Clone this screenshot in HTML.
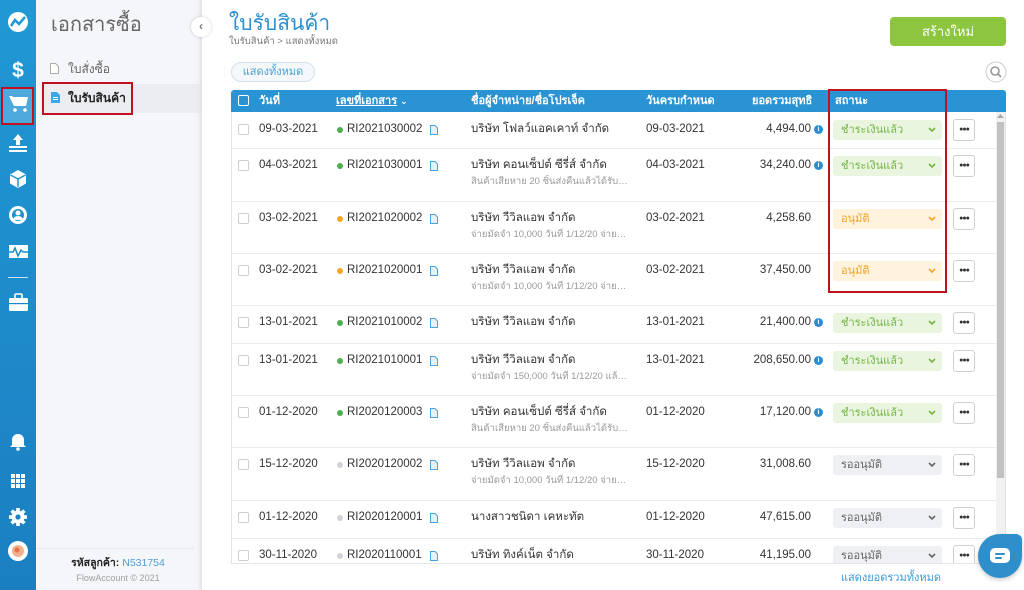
<!DOCTYPE html>
<html><head><meta charset="utf-8">
<style>
*{box-sizing:border-box}
body{margin:0;width:1024px;height:590px;position:relative;overflow:hidden;font-family:"Liberation Sans","DejaVu Sans",sans-serif;background:#fff;color:#333}
.a{position:absolute}
.t{white-space:nowrap;line-height:17px;height:17px}
.cb{position:absolute;width:11px;height:11px;border:1px solid #cfcfcf;border-radius:2px;background:#fff}
.dot{position:absolute;width:6px;height:6px;border-radius:50%}
.sub{position:absolute;font-size:9.5px;color:#9a9a9a;width:160px;overflow:hidden;text-overflow:ellipsis;white-space:nowrap;line-height:13px}
.amt{position:absolute;width:111px;text-align:right;font-size:11.5px;line-height:17px}
.inf{position:absolute;width:9px;height:9px;border-radius:50%;background:#2a8fd0;color:#fff;font-size:7px;line-height:9px;text-align:center;font-weight:bold}
.st{position:absolute;left:833px;width:109px;height:20px;border-radius:3px;font-size:11px;line-height:20px;padding-left:8px}
.st svg{position:absolute;right:6px;top:7px}
.pd{background:#e9f5df;color:#74b543}
.ap{background:#fff3dd;color:#f3a22b}
.wt{background:#eef0f3;color:#666}
.dots{position:absolute;left:953px;width:22px;height:22px;border:1px solid #cfcfcf;border-radius:3px;background:#fff;font-size:7px;line-height:20px;text-align:center;color:#333;letter-spacing:-1px}
.sep{position:absolute;left:232px;width:764px;height:1px;background:#ebebeb}
.hd{position:absolute;top:92px;color:#fff;font-size:11px;font-weight:bold;line-height:18px;white-space:nowrap}
</style></head><body>

<!-- left icon bar -->
<svg class="a" style="left:0;top:0" width="36" height="590">
<defs><linearGradient id="g" x1="0" y1="0" x2="0" y2="1"><stop offset="0" stop-color="#2198d5"/><stop offset="1" stop-color="#1a7fc1"/></linearGradient></defs>
<rect width="36" height="590" fill="url(#g)"/>
<circle cx="18" cy="22" r="10" fill="#fff"/>
<polyline points="11,26 15,20 19,24 25,17" stroke="#2198d5" stroke-width="2.5" fill="none"/>
<text x="18" y="77" font-size="21" font-weight="bold" fill="#fff" text-anchor="middle" font-family="Liberation Sans">$</text>
<rect x="3" y="89" width="29" height="34" fill="#4eaadd"/>
<rect x="2" y="88" width="31" height="36" fill="none" stroke="#c0111f" stroke-width="2"/>
<path d="M9 96h3l1 1h15l-2 9H14z" fill="#fff"/>
<circle cx="15" cy="110" r="1.8" fill="#fff"/><circle cx="25" cy="110" r="1.8" fill="#fff"/>
<polygon points="18,134 23,140 20,140 20,145 16,145 16,140 13,140" fill="#fff"/>
<rect x="9" y="146" width="18" height="2" fill="#fff"/><rect x="9" y="150" width="18" height="2" fill="#fff"/>
<polygon points="18,170 26,174.5 26,183.5 18,188 10,183.5 10,174.5" fill="#fff"/>
<polyline points="10.5,175 18,179 25.5,175" stroke="#2198d5" stroke-width="1.5" fill="none"/><line x1="18" y1="179" x2="18" y2="187" stroke="#2198d5" stroke-width="1.5"/>
<circle cx="18" cy="215" r="9" fill="#fff"/><circle cx="18" cy="215" r="6" fill="#1e90cf"/>
<circle cx="18" cy="213" r="2.5" fill="#fff"/><path d="M13 220a5 4 0 0 1 10 0z" fill="#fff"/>
<rect x="9" y="245" width="19" height="13" fill="#fff"/>
<polyline points="9,252 13,252 15,248 18,256 21,250 23,252 28,252" stroke="#1e8acb" stroke-width="1.5" fill="none"/>
<rect x="8" y="277" width="20" height="1" fill="#fff" opacity=".75"/>
<rect x="15" y="294" width="7" height="5" rx="1" fill="none" stroke="#fff" stroke-width="1.6"/>
<rect x="9" y="298" width="19" height="13" rx="1.5" fill="#fff"/>
<rect x="9" y="303" width="19" height="1.2" fill="#1d84c5"/>
<path d="M18 434c-4 0-6 3-6 6v5l-2 2h16l-2-2v-5c0-3-2-6-6-6z" fill="#fff"/><circle cx="18" cy="449" r="1.8" fill="#fff"/>
<g fill="#fff">
<rect x="11" y="474" width="4" height="4"/><rect x="16" y="474" width="4" height="4"/><rect x="21" y="474" width="4" height="4"/>
<rect x="11" y="479" width="4" height="4"/><rect x="16" y="479" width="4" height="4"/><rect x="21" y="479" width="4" height="4"/>
<rect x="11" y="484" width="4" height="4"/><rect x="16" y="484" width="4" height="4"/><rect x="21" y="484" width="4" height="4"/>
</g>
<g transform="translate(18,517)" fill="#fff">
<circle r="6.5"/>
<rect x="-1.8" y="-9" width="3.6" height="18"/><rect x="-1.8" y="-9" width="3.6" height="18" transform="rotate(45)"/>
<rect x="-1.8" y="-9" width="3.6" height="18" transform="rotate(90)"/><rect x="-1.8" y="-9" width="3.6" height="18" transform="rotate(135)"/>
<circle r="2.6" fill="#1b82c3"/>
</g>
<circle cx="18" cy="551" r="10" fill="#fff"/><circle cx="18" cy="551" r="6" fill="#f3b08a"/><circle cx="17" cy="550" r="2.5" fill="#e0734a"/>
</svg>

<!-- second sidebar -->
<div class="a" style="left:36px;top:0;width:166px;height:590px;background:#f5f6f9;box-shadow:inset -3px 0 4px -2px rgba(0,0,0,.06)"></div>
<div class="a t" style="left:51px;top:12px;font-size:20px;line-height:26px;height:26px;color:#666">เอกสารซื้อ</div>
<svg class="a" style="left:50px;top:63px" width="9" height="11"><path d="M0.5 0.5h5l3 3v7h-8z" fill="#fff" stroke="#aaa"/></svg>
<div class="a t" style="left:68px;top:61px;font-size:12px;color:#666">ใบสั่งซื้อ</div>
<div class="a" style="left:41px;top:84px;width:161px;height:29px;background:#ebedf1"></div>
<svg class="a" style="left:51px;top:92px" width="9" height="11"><path d="M0 0h6l3 3v8H0z" fill="#3ea6e6"/><rect x="2" y="5" width="5" height="1" fill="#fff"/><rect x="2" y="7" width="5" height="1" fill="#fff"/></svg>
<div class="a t" style="left:68px;top:90px;font-size:12px;font-weight:bold;color:#222">ใบรับสินค้า</div>
<div class="a" style="left:42px;top:82px;width:91px;height:33px;border:2px solid #c0111f"></div>
<div class="a" style="left:36px;top:548px;width:158px;height:1px;background:#e8e9ec"></div>
<div class="a t" style="left:36px;top:555px;width:164px;text-align:center;font-size:10.5px"><b style="color:#222">รหัสลูกค้า:</b> <span style="color:#4a9fd5">N531754</span></div>
<div class="a t" style="left:36px;top:570px;width:164px;text-align:center;font-size:9px;color:#a0a0a0">FlowAccount © 2021</div>

<!-- main -->
<div class="a" style="left:202px;top:0;width:822px;height:590px;background:#fff;box-shadow:-2px 0 5px rgba(0,0,0,.06)"></div>
<div class="a" style="left:191px;top:17px;width:20px;height:20px;border-radius:50%;background:#fff;box-shadow:0 0 3px rgba(0,0,0,.2);font-size:12px;line-height:19px;text-align:center;color:#777;font-weight:bold">‹</div>
<div class="a t" style="left:229px;top:10px;font-size:21px;line-height:28px;height:28px;color:#2b8fd0">ใบรับสินค้า</div>
<div class="a t" style="left:229px;top:33px;font-size:9.5px;color:#777">ใบรับสินค้า &gt; แสดงทั้งหมด</div>
<div class="a" style="left:231px;top:62px;width:84px;height:20px;border:1px solid #cfe2ef;background:#f4f8fb;border-radius:10px;font-size:11px;line-height:18px;text-align:center;color:#4a9fd5">แสดงทั้งหมด</div>
<div class="a" style="left:890px;top:17px;width:116px;height:29px;background:#8cc63f;border-radius:4px;color:#fff;font-size:13px;line-height:29px;text-align:center">สร้างใหม่</div>
<svg class="a" style="left:985px;top:61px" width="22" height="22"><circle cx="11" cy="11" r="10" fill="#fff" stroke="#ccc"/><circle cx="10" cy="10" r="4" fill="none" stroke="#999" stroke-width="1.6"/><line x1="13" y1="13" x2="16" y2="16" stroke="#999" stroke-width="1.8"/></svg>

<!-- table header -->
<div class="a" style="left:231px;top:90px;width:775px;height:22px;background:#2a93d4;border-radius:3px 3px 0 0"></div>
<div class="a" style="left:238px;top:95px;width:11px;height:11px;border:1px solid #fff;border-radius:2px"></div>
<div class="hd" style="left:259px">วันที่</div>
<div class="hd" style="left:336px"><u>เลขที่เอกสาร</u> <span style="font-size:9px">⌄</span></div>
<div class="hd" style="left:471px">ชื่อผู้จำหน่าย/ชื่อโปรเจ็ค</div>
<div class="hd" style="left:646px">วันครบกำหนด</div>
<div class="hd" style="left:752px">ยอดรวมสุทธิ</div>
<div class="hd" style="left:835px">สถานะ</div>

<!-- table body frame -->
<div class="a" style="left:231px;top:112px;width:1px;height:451px;background:#e2e2e2"></div>
<div class="a" style="left:1005px;top:112px;width:1px;height:451px;background:#e2e2e2"></div>
<div class="a" style="left:231px;top:563px;width:775px;height:1px;background:#e6e6e6"></div>
<div class="a" style="left:996px;top:112px;width:9px;height:451px;background:#f1f1f1"></div>
<div class="a" style="left:997px;top:122px;width:7px;height:356px;background:#c1c1c1"></div>
<svg class="a" style="left:997px;top:114px" width="7" height="5"><polygon points="3.5,0 7,4 0,4" fill="#a8a8a8"/></svg>

<div class="a" style="left:0;top:112px;width:996px;height:451px;overflow:hidden">
<!-- row1 T=0 -->
<div class="cb" style="left:238px;top:12px"></div>
<div class="a t" style="left:259px;top:9px;font-size:11.5px">09-03-2021</div>
<div class="dot" style="left:337px;top:15px;background:#4caf50"></div>
<div class="a t" style="left:347px;top:9px;font-size:11.5px">RI2021030002</div>
<svg class="a" style="left:430px;top:13px" width="8" height="10"><path d="M.5.5h4.5l2.5 2.5v6.5h-7z" fill="#e6f2fb" stroke="#4aa3dd"/></svg>
<div class="a t" style="left:471px;top:9px;font-size:11.5px">บริษัท โฟลว์แอคเคาท์ จำกัด</div>
<div class="a t" style="left:646px;top:9px;font-size:11.5px">09-03-2021</div>
<div class="amt" style="left:700px;top:9px">4,494.00</div>
<div class="inf" style="left:814px;top:13px">i</div>
<div class="st pd" style="top:8px">ชำระเงินแล้ว<svg width="8" height="6"><polyline points="1,1 4,4 7,1" stroke="#74b543" stroke-width="1.6" fill="none"/></svg></div>
<div class="dots" style="top:7px">●●●</div>

<!-- row2 T=36 -->
<div class="sep" style="top:36px"></div>
<div class="cb" style="left:238px;top:48px"></div>
<div class="a t" style="left:259px;top:45px;font-size:11.5px">04-03-2021</div>
<div class="dot" style="left:337px;top:51px;background:#4caf50"></div>
<div class="a t" style="left:347px;top:45px;font-size:11.5px">RI2021030001</div>
<svg class="a" style="left:430px;top:49px" width="8" height="10"><path d="M.5.5h4.5l2.5 2.5v6.5h-7z" fill="#e6f2fb" stroke="#4aa3dd"/></svg>
<div class="a t" style="left:471px;top:45px;font-size:11.5px">บริษัท คอนเซ็ปต์ ซีรี่ส์ จำกัด</div>
<div class="sub" style="left:471px;top:63px">สินค้าเสียหาย 20 ชิ้นส่งคืนแล้วได้รับใบลดหนี้เรียบร้อย</div>
<div class="a t" style="left:646px;top:45px;font-size:11.5px">04-03-2021</div>
<div class="amt" style="left:700px;top:45px">34,240.00</div>
<div class="inf" style="left:814px;top:49px">i</div>
<div class="st pd" style="top:44px">ชำระเงินแล้ว<svg width="8" height="6"><polyline points="1,1 4,4 7,1" stroke="#74b543" stroke-width="1.6" fill="none"/></svg></div>
<div class="dots" style="top:43px">●●●</div>

<!-- row3 T=89 -->
<div class="sep" style="top:89px"></div>
<div class="cb" style="left:238px;top:101px"></div>
<div class="a t" style="left:259px;top:98px;font-size:11.5px">03-02-2021</div>
<div class="dot" style="left:337px;top:104px;background:#f5a623"></div>
<div class="a t" style="left:347px;top:98px;font-size:11.5px">RI2021020002</div>
<svg class="a" style="left:430px;top:102px" width="8" height="10"><path d="M.5.5h4.5l2.5 2.5v6.5h-7z" fill="#e6f2fb" stroke="#4aa3dd"/></svg>
<div class="a t" style="left:471px;top:98px;font-size:11.5px">บริษัท วีวิลแอพ จำกัด</div>
<div class="sub" style="left:471px;top:116px">จ่ายมัดจำ 10,000 วันที่ 1/12/20 จ่ายส่วนที่เหลือ</div>
<div class="a t" style="left:646px;top:98px;font-size:11.5px">03-02-2021</div>
<div class="amt" style="left:700px;top:98px">4,258.60</div>
<div class="st ap" style="top:97px">อนุมัติ<svg width="8" height="6"><polyline points="1,1 4,4 7,1" stroke="#f3a22b" stroke-width="1.6" fill="none"/></svg></div>
<div class="dots" style="top:96px">●●●</div>

<!-- row4 T=141 -->
<div class="sep" style="top:141px"></div>
<div class="cb" style="left:238px;top:153px"></div>
<div class="a t" style="left:259px;top:150px;font-size:11.5px">03-02-2021</div>
<div class="dot" style="left:337px;top:156px;background:#f5a623"></div>
<div class="a t" style="left:347px;top:150px;font-size:11.5px">RI2021020001</div>
<svg class="a" style="left:430px;top:154px" width="8" height="10"><path d="M.5.5h4.5l2.5 2.5v6.5h-7z" fill="#e6f2fb" stroke="#4aa3dd"/></svg>
<div class="a t" style="left:471px;top:150px;font-size:11.5px">บริษัท วีวิลแอพ จำกัด</div>
<div class="sub" style="left:471px;top:168px">จ่ายมัดจำ 10,000 วันที่ 1/12/20 จ่ายส่วนที่เหลือ</div>
<div class="a t" style="left:646px;top:150px;font-size:11.5px">03-02-2021</div>
<div class="amt" style="left:700px;top:150px">37,450.00</div>
<div class="st ap" style="top:149px">อนุมัติ<svg width="8" height="6"><polyline points="1,1 4,4 7,1" stroke="#f3a22b" stroke-width="1.6" fill="none"/></svg></div>
<div class="dots" style="top:148px">●●●</div>

<!-- row5 T=193 -->
<div class="sep" style="top:193px"></div>
<div class="cb" style="left:238px;top:205px"></div>
<div class="a t" style="left:259px;top:202px;font-size:11.5px">13-01-2021</div>
<div class="dot" style="left:337px;top:208px;background:#4caf50"></div>
<div class="a t" style="left:347px;top:202px;font-size:11.5px">RI2021010002</div>
<svg class="a" style="left:430px;top:206px" width="8" height="10"><path d="M.5.5h4.5l2.5 2.5v6.5h-7z" fill="#e6f2fb" stroke="#4aa3dd"/></svg>
<div class="a t" style="left:471px;top:202px;font-size:11.5px">บริษัท วีวิลแอพ จำกัด</div>
<div class="a t" style="left:646px;top:202px;font-size:11.5px">13-01-2021</div>
<div class="amt" style="left:700px;top:202px">21,400.00</div>
<div class="inf" style="left:814px;top:206px">i</div>
<div class="st pd" style="top:201px">ชำระเงินแล้ว<svg width="8" height="6"><polyline points="1,1 4,4 7,1" stroke="#74b543" stroke-width="1.6" fill="none"/></svg></div>
<div class="dots" style="top:200px">●●●</div>

<!-- row6 T=231 -->
<div class="sep" style="top:231px"></div>
<div class="cb" style="left:238px;top:243px"></div>
<div class="a t" style="left:259px;top:240px;font-size:11.5px">13-01-2021</div>
<div class="dot" style="left:337px;top:246px;background:#4caf50"></div>
<div class="a t" style="left:347px;top:240px;font-size:11.5px">RI2021010001</div>
<svg class="a" style="left:430px;top:244px" width="8" height="10"><path d="M.5.5h4.5l2.5 2.5v6.5h-7z" fill="#e6f2fb" stroke="#4aa3dd"/></svg>
<div class="a t" style="left:471px;top:240px;font-size:11.5px">บริษัท วีวิลแอพ จำกัด</div>
<div class="sub" style="left:471px;top:258px">จ่ายมัดจำ 150,000 วันที่ 1/12/20 แล้วรับของครบ</div>
<div class="a t" style="left:646px;top:240px;font-size:11.5px">13-01-2021</div>
<div class="amt" style="left:700px;top:240px">208,650.00</div>
<div class="inf" style="left:814px;top:244px">i</div>
<div class="st pd" style="top:239px">ชำระเงินแล้ว<svg width="8" height="6"><polyline points="1,1 4,4 7,1" stroke="#74b543" stroke-width="1.6" fill="none"/></svg></div>
<div class="dots" style="top:238px">●●●</div>

<!-- row7 T=283 -->
<div class="sep" style="top:283px"></div>
<div class="cb" style="left:238px;top:295px"></div>
<div class="a t" style="left:259px;top:292px;font-size:11.5px">01-12-2020</div>
<div class="dot" style="left:337px;top:298px;background:#4caf50"></div>
<div class="a t" style="left:347px;top:292px;font-size:11.5px">RI2020120003</div>
<svg class="a" style="left:430px;top:296px" width="8" height="10"><path d="M.5.5h4.5l2.5 2.5v6.5h-7z" fill="#e6f2fb" stroke="#4aa3dd"/></svg>
<div class="a t" style="left:471px;top:292px;font-size:11.5px">บริษัท คอนเซ็ปต์ ซีรี่ส์ จำกัด</div>
<div class="sub" style="left:471px;top:310px">สินค้าเสียหาย 20 ชิ้นส่งคืนแล้วได้รับใบลดหนี้เรียบร้อย</div>
<div class="a t" style="left:646px;top:292px;font-size:11.5px">01-12-2020</div>
<div class="amt" style="left:700px;top:292px">17,120.00</div>
<div class="inf" style="left:814px;top:296px">i</div>
<div class="st pd" style="top:291px">ชำระเงินแล้ว<svg width="8" height="6"><polyline points="1,1 4,4 7,1" stroke="#74b543" stroke-width="1.6" fill="none"/></svg></div>
<div class="dots" style="top:290px">●●●</div>

<!-- row8 T=335 -->
<div class="sep" style="top:335px"></div>
<div class="cb" style="left:238px;top:347px"></div>
<div class="a t" style="left:259px;top:344px;font-size:11.5px">15-12-2020</div>
<div class="dot" style="left:337px;top:350px;background:#cfd2d6"></div>
<div class="a t" style="left:347px;top:344px;font-size:11.5px">RI2020120002</div>
<svg class="a" style="left:430px;top:348px" width="8" height="10"><path d="M.5.5h4.5l2.5 2.5v6.5h-7z" fill="#e6f2fb" stroke="#4aa3dd"/></svg>
<div class="a t" style="left:471px;top:344px;font-size:11.5px">บริษัท วีวิลแอพ จำกัด</div>
<div class="sub" style="left:471px;top:362px">จ่ายมัดจำ 10,000 วันที่ 1/12/20 จ่ายส่วนที่เหลือ</div>
<div class="a t" style="left:646px;top:344px;font-size:11.5px">15-12-2020</div>
<div class="amt" style="left:700px;top:344px">31,008.60</div>
<div class="st wt" style="top:343px">รออนุมัติ<svg width="8" height="6"><polyline points="1,1 4,4 7,1" stroke="#666" stroke-width="1.6" fill="none"/></svg></div>
<div class="dots" style="top:342px">●●●</div>

<!-- row9 T=388 -->
<div class="sep" style="top:388px"></div>
<div class="cb" style="left:238px;top:400px"></div>
<div class="a t" style="left:259px;top:397px;font-size:11.5px">01-12-2020</div>
<div class="dot" style="left:337px;top:403px;background:#cfd2d6"></div>
<div class="a t" style="left:347px;top:397px;font-size:11.5px">RI2020120001</div>
<svg class="a" style="left:430px;top:401px" width="8" height="10"><path d="M.5.5h4.5l2.5 2.5v6.5h-7z" fill="#e6f2fb" stroke="#4aa3dd"/></svg>
<div class="a t" style="left:471px;top:397px;font-size:11.5px">นางสาวชนิดา เคหะทัต</div>
<div class="a t" style="left:646px;top:397px;font-size:11.5px">01-12-2020</div>
<div class="amt" style="left:700px;top:397px">47,615.00</div>
<div class="st wt" style="top:396px">รออนุมัติ<svg width="8" height="6"><polyline points="1,1 4,4 7,1" stroke="#666" stroke-width="1.6" fill="none"/></svg></div>
<div class="dots" style="top:395px">●●●</div>

<!-- row10 T=426 -->
<div class="sep" style="top:426px"></div>
<div class="cb" style="left:238px;top:438px"></div>
<div class="a t" style="left:259px;top:435px;font-size:11.5px">30-11-2020</div>
<div class="dot" style="left:337px;top:441px;background:#cfd2d6"></div>
<div class="a t" style="left:347px;top:435px;font-size:11.5px">RI2020110001</div>
<svg class="a" style="left:430px;top:439px" width="8" height="10"><path d="M.5.5h4.5l2.5 2.5v6.5h-7z" fill="#e6f2fb" stroke="#4aa3dd"/></svg>
<div class="a t" style="left:471px;top:435px;font-size:11.5px">บริษัท ทิงค์เน็ต จำกัด</div>
<div class="a t" style="left:646px;top:435px;font-size:11.5px">30-11-2020</div>
<div class="amt" style="left:700px;top:435px">41,195.00</div>
<div class="st wt" style="top:434px">รออนุมัติ<svg width="8" height="6"><polyline points="1,1 4,4 7,1" stroke="#666" stroke-width="1.6" fill="none"/></svg></div>
<div class="dots" style="top:433px">●●●</div>
</div>

<!-- red box status column -->
<div class="a" style="left:828px;top:89px;width:119px;height:204px;border:2px solid #c0111f"></div>

<!-- footer link -->
<div class="a t" style="left:800px;top:570px;width:141px;text-align:right;font-size:11px;color:#3b9ad4">แสดงยอดรวมทั้งหมด</div>

<!-- chat button -->
<div class="a" style="left:978px;top:534px;width:44px;height:44px;background:#2e8fcb;border-radius:22px 6px 22px 22px;box-shadow:0 2px 5px rgba(0,0,0,.2)"></div>
<svg class="a" style="left:989px;top:547px" width="22" height="18"><rect x="1" y="1" width="20" height="15" rx="5" fill="#fff"/><rect x="6" y="6" width="10" height="2" rx="1" fill="#2e8fcb"/><rect x="6" y="10" width="7" height="2" rx="1" fill="#2e8fcb"/></svg>

</body></html>
